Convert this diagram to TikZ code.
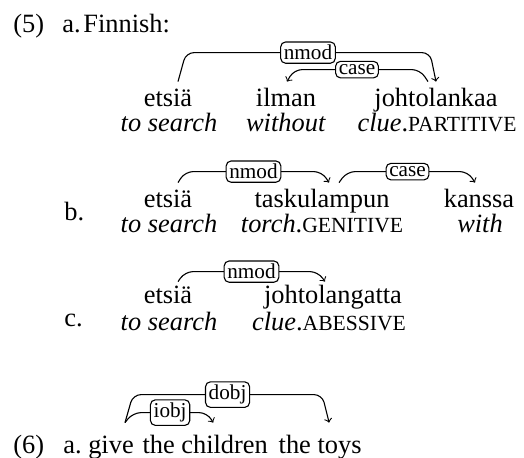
\documentclass[tikz,border=0pt]{standalone}
\usepackage{fontspec}
\setmainfont{Liberation Serif}
\usetikzlibrary{calc,positioning}
% fake small caps for the case glosses
\newcommand{\glcase}[1]{{\fontsize{10.8}{12}\selectfont #1}}
\begin{document}
\begin{tikzpicture}[x=0.5pt,y=-0.5pt,
    word/.style={anchor=base, inner sep=0pt, text height=9pt, text depth=2.5pt,
        font=\fontsize{13.2}{15}\selectfont},
    deplabel/.style={draw, rounded corners=2.5pt, fill=white, inner sep=1.6pt,
        font=\fontsize{10.6}{12}\selectfont},
    deparc/.style={line width=0.55pt, rounded corners=4pt, ->}]
    \useasboundingbox (0,0) rectangle (524,457);

    % (5a)
    \node[word, anchor=base west] (exFive) at (13,32) {(5)};
    \node[word, anchor=base west] (subA) at (62,32) {a.};
    \node[word, anchor=base west] (lang) at (83,32) {Finnish:};

    \node[word] (etsiaA) at (168,106) {etsiä};
    \node[word] (ilman) at (286,106) {ilman};
    \node[word] (johtoA) at (436,106) {johtolankaa};
    \node[word] (glEtsiaA) at (169,131) {\textit{to search}};
    \node[word] (glIlman) at (286,131) {\textit{without}};
    \node[word] (glJohtoA) at (437,131) {\textit{clue}.\glcase{PARTITIVE}};

    \draw[deparc] ($(etsiaA.north)+(10,-6)$) -- ($(etsiaA.north)+(18,-35)$)
        -- node[deplabel] {nmod} ($(johtoA.north)+(-6,-35)$) -- ($(johtoA.north)+(0,-6)$);
    \draw[deparc] ($(johtoA.north)+(-8,-6)$) -- ($(johtoA.north)+(-16,-18)$)
        -- node[deplabel] {case} ($(ilman.north)+(8,-18)$) -- ($(ilman.north)+(1,-6)$);

    % (5b)
    \node[word, anchor=base west] (subB) at (64,220) {b.};
    \node[word] (etsiaB) at (168,207) {etsiä};
    \node[word] (taskul) at (322,207) {taskulampun};
    \node[word] (kanssa) at (479,207) {kanssa};
    \node[word] (glEtsiaB) at (169,232) {\textit{to search}};
    \node[word] (glTaskul) at (322,232) {\textit{torch}.\glcase{GENITIVE}};
    \node[word] (glKanssa) at (480,232) {\textit{with}};

    \draw[deparc] ($(etsiaB.north)+(10,-6)$) -- ($(etsiaB.north)+(17,-17)$)
        -- node[deplabel] {nmod} ($(taskul.north)+(0,-17)$) -- ($(taskul.north)+(7,-6)$);
    \draw[deparc] ($(taskul.north)+(17,-6)$) -- ($(taskul.north)+(25,-17)$)
        -- node[deplabel] {case} ($(kanssa.north)+(-11,-17)$) -- ($(kanssa.north)+(-4,-6)$);

    % (5c)
    \node[word, anchor=base west] (subC) at (64,326) {c.};
    \node[word] (etsiaC) at (168,303) {etsiä};
    \node[word] (johtoC) at (333,303) {johtolangatta};
    \node[word] (glEtsiaC) at (169,330) {\textit{to search}};
    \node[word] (glJohtoC) at (329,330) {\textit{clue}.\glcase{ABESSIVE}};

    \draw[deparc] ($(etsiaC.north)+(10,-3)$) -- ($(etsiaC.north)+(17,-13)$)
        -- node[deplabel] {nmod} ($(johtoC.north)+(-15,-13)$) -- ($(johtoC.north)+(-8,-3)$);

    % (6a)
    \node[word, anchor=base west] (exSix) at (13,453) {(6)};
    \node[word, anchor=base west] (subSix) at (63,453) {a.};
    \node[word] (give) at (111,453) {give};
    \node[word, base right=4pt of give] (children) {the children};
    \node[word, base right=5pt of children] (toys) {the toys};

    \draw[deparc] ($(give.north)+(14,-12)$) -- ($(give.north)+(22,-40)$)
        -- node[deplabel] {dobj} ($(toys.north)+(2,-40)$) -- ($(toys.north)+(9,-12)$);
    \draw[deparc] ($(give.north)+(14,-12)$) -- ($(give.north)+(22,-22)$)
        -- node[deplabel] {iobj} ($(children.north)+(2,-22)$) -- ($(children.north)+(8,-12)$);
\end{tikzpicture}
\end{document}
